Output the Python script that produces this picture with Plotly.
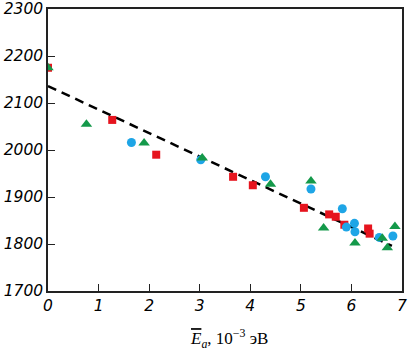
import plotly.graph_objects as go

# Data
red_x = [0, 1.27, 2.14, 3.66, 4.05, 5.06, 5.56, 5.69, 5.86, 6.33, 6.36]
red_y = [2175, 2064, 1990, 1943, 1925, 1877, 1863, 1858, 1841, 1833, 1822]

blue_x = [1.65, 3.02, 4.30, 5.20, 5.82, 5.90, 6.06, 6.07, 6.55, 6.82]
blue_y = [2016, 1979, 1943, 1917, 1875, 1836, 1844, 1826, 1814, 1817]

green_x = [0, 0.76, 1.90, 3.05, 4.40, 5.20, 5.45, 6.07, 6.61, 6.71, 6.86]
green_y = [2175, 2055, 2015, 1983, 1927, 1934, 1834, 1802, 1812, 1792, 1837]

fit_x = [0, 6.8]
fit_y = [2136, 1796]

x_ticks = [0, 1, 2, 3, 4, 5, 6, 7]
y_ticks = [1700, 1800, 1900, 2000, 2100, 2200, 2300]

RED = "#e6141e"
BLUE = "#1ea5e6"
GREEN = "#14994a"

fig = go.Figure()
fig.add_trace(go.Scatter(x=fit_x, y=fit_y, mode="lines",
                         line=dict(color="black", width=2.5, dash="9px,6px"),
                         hoverinfo="skip"))
fig.add_trace(go.Scatter(x=red_x, y=red_y, mode="markers",
                         marker=dict(symbol="square", size=8, color=RED, line=dict(width=0))))
fig.add_trace(go.Scatter(x=blue_x, y=blue_y, mode="markers",
                         marker=dict(symbol="circle", size=9, color=BLUE, line=dict(width=0))))
fig.add_trace(go.Scatter(x=green_x, y=green_y, mode="markers",
                         marker=dict(symbol="triangle-up", size=10, color=GREEN, line=dict(width=0))))

tickfont = dict(family="DejaVu Sans", size=15.5, color="black")

fig.update_layout(
    width=408, height=352,
    margin=dict(l=48, r=6, t=9, b=61),
    paper_bgcolor="white", plot_bgcolor="white",
    showlegend=False,
    xaxis=dict(range=[0, 7], tickvals=x_ticks, ticktext=[f"<i>{v}</i>" for v in x_ticks],
               showgrid=False, zeroline=False, showline=True, mirror=True,
               linecolor="#222", linewidth=1.5, ticks="inside", ticklen=7,
               tickwidth=1.2, tickcolor="#222", tickfont=tickfont,
               ticklabeloverflow="allow", automargin=False),
    yaxis=dict(range=[1700, 2300], tickvals=y_ticks, ticktext=[f"<i>{v}</i>" for v in y_ticks],
               showgrid=False, zeroline=False, showline=True, mirror=True,
               linecolor="#222", linewidth=1.5, ticks="inside", ticklen=7,
               tickwidth=1.2, tickcolor="#222", tickfont=tickfont,
               ticklabeloverflow="allow", automargin=False),
    annotations=[dict(
        xref="paper", yref="paper", x=0.51, y=-0.17, xanchor="center", yanchor="middle",
        showarrow=False,
        text="<span style='text-decoration:overline'><i>E</i></span><sub><i>a</i></sub>, 10<sup>−3</sup> эВ",
        font=dict(family="Liberation Serif", size=17, color="black"),
    )],
)

fig.write_html("out.html")
